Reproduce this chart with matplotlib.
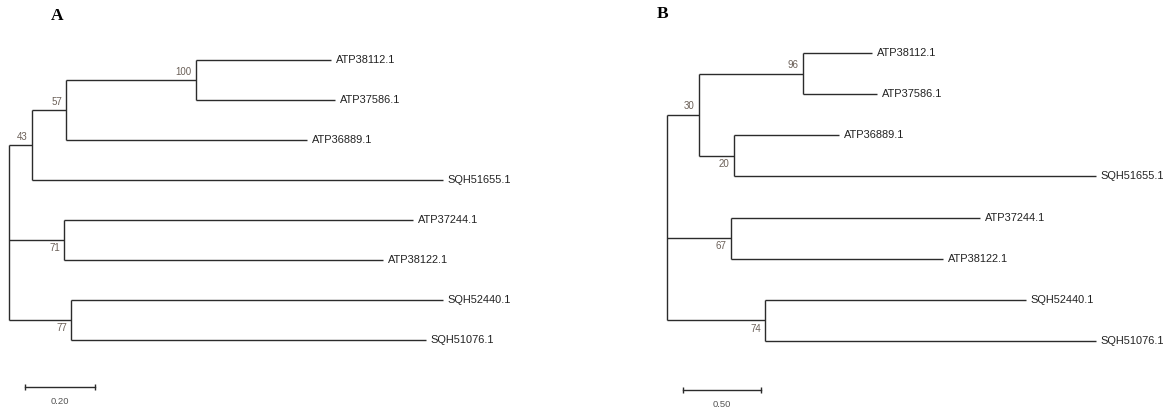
import matplotlib
matplotlib.use("Agg")
import matplotlib.pyplot as plt

# tree A (scale 0.20)
node_a = ["root", "i1", "i2", "i3", "ATP38112.1", "ATP37586.1", "ATP36889.1",
          "SQH51655.1", "i4", "ATP37244.1", "ATP38122.1", "i5", "SQH52440.1", "SQH51076.1"]
parent_a = [None, "root", "i1", "i2", "i3", "i3", "i2", "i1", "root", "i4", "i4",
            "root", "i5", "i5"]
length_a = [0, 0.066, 0.097, 0.371, 0.386, 0.397, 0.689, 1.174, 0.157, 0.997, 0.911,
            0.177, 1.063, 1.014]
support_a = [None, 43, 57, 100, None, None, None, None, 71, None, None, 77, None, None]

# tree B (scale 0.50)
node_b = ["root", "i1", "i2", "ATP38112.1", "ATP37586.1", "i3", "ATP36889.1",
          "SQH51655.1", "i4", "ATP37244.1", "ATP38122.1", "i5", "SQH52440.1", "SQH51076.1"]
parent_b = [None, "root", "i1", "i2", "i2", "i1", "i3", "i3", "root", "i4", "i4",
            "root", "i5", "i5"]
length_b = [0, 0.205, 0.667, 0.442, 0.474, 0.224, 0.673, 2.321, 0.410, 1.596, 1.359,
            0.628, 1.673, 2.122]
support_b = [None, 30, 96, None, None, 20, None, None, 67, None, None, 74, None, None]

scale_a = 0.20
scale_b = 0.50

LINE = "#2b2b2b"
SUPPORT = "#6b6058"
FONT = "Liberation Sans"


def layout(nodes, parents, lengths):
    children = {n: [] for n in nodes}
    blen = dict(zip(nodes, lengths))
    for n, p in zip(nodes, parents):
        if p is not None:
            children[p].append(n)
    xs, ys = {}, {}
    count = [0]

    def walk(n, x0):
        xs[n] = x0 + blen[n]
        if not children[n]:
            ys[n] = count[0]
            count[0] += 1
            return
        for c in children[n]:
            walk(c, xs[n])
        ys[n] = (ys[children[n][0]] + ys[children[n][-1]]) / 2

    walk("root", 0.0)
    return children, xs, ys


def draw_tree(ax, nodes, parents, lengths, supports):
    children, xs, ys = layout(nodes, parents, lengths)
    par = dict(zip(nodes, parents))
    for n in nodes:
        kids = children[n]
        if kids:
            ax.plot([xs[n], xs[n]], [ys[kids[0]], ys[kids[-1]]], color=LINE,
                    lw=1.0, solid_capstyle="butt")
        if par[n] is not None:
            ax.plot([xs[par[n]], xs[n]], [ys[n], ys[n]], color=LINE, lw=1.0,
                    solid_capstyle="butt")
        if not kids:
            ax.annotate(n, (xs[n], ys[n]), xytext=(3.5, 0), textcoords="offset points",
                        ha="left", va="center", fontsize=7.9, family=FONT,
                        color="#222222")
    # bootstrap values sit above the upper child branch, below the others
    for n, s in zip(nodes, supports):
        if s is None:
            continue
        first = children[par[n]][0] == n
        dy = 6 if first else -6
        ax.annotate(str(s), (xs[n], ys[n]), xytext=(-3, dy), textcoords="offset points",
                    ha="right", va="center", fontsize=7, family=FONT, color=SUPPORT)


def scale_bar(ax, x0, y, value):
    ax.plot([x0, x0 + value], [y, y], color=LINE, lw=1.0, marker="|", ms=4, mew=1.0)
    ax.text(x0 + value / 2, y + 0.35, f"{value:.2f}", ha="center", va="center",
            fontsize=6.8, family=FONT, color="#555555")


fig = plt.figure(figsize=(11.76, 4.12), dpi=100)

ax_a = fig.add_axes([0, 0, 580 / 1176, 1])
draw_tree(ax_a, node_a, parent_a, length_a, support_a)
scale_bar(ax_a, 0.046, 8.18, scale_a)
ax_a.set_xlim(-9 / 350, 571 / 350)
ax_a.set_ylim(8.8, -1.5)
ax_a.set_axis_off()

ax_b = fig.add_axes([640 / 1176, 0, 536 / 1176, 1])
draw_tree(ax_b, node_b, parent_b, length_b, support_b)
scale_bar(ax_b, 0.103, 8.2, scale_b)
ax_b.set_xlim(-27 / 156, 509 / 156)
ax_b.set_ylim(8.726, -1.288)
ax_b.set_axis_off()

fig.text(57 / 1176, 1 - 16 / 412, "A", ha="center", va="center", fontsize=12.5,
         fontweight="bold", family="Liberation Serif")
fig.text(663 / 1176, 1 - 14 / 412, "B", ha="center", va="center", fontsize=12.5,
         fontweight="bold", family="Liberation Serif")

fig.savefig("out.png", dpi=100)
